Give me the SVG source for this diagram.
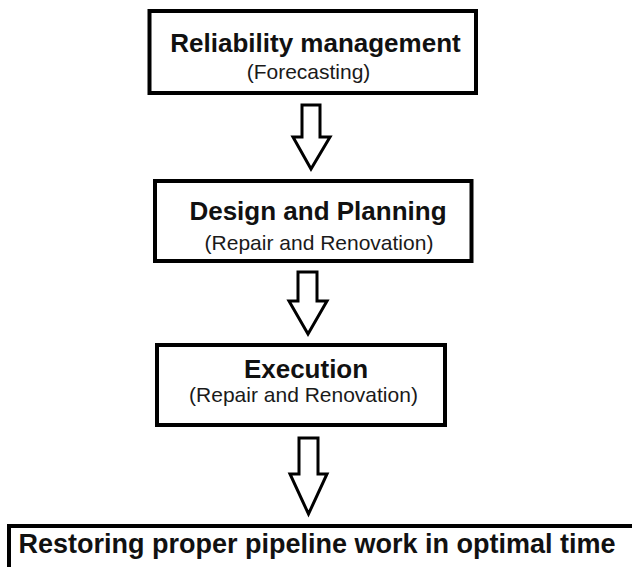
<svg xmlns="http://www.w3.org/2000/svg" width="632" height="567" viewBox="0 0 632 567">
<style>
.box{fill:#fff;stroke:#000;stroke-width:4}
.arrow{fill:#fff;stroke:#000;stroke-width:3;stroke-linejoin:miter}
.t{font-family:"Liberation Sans",Arial,sans-serif;font-weight:bold;font-size:26px;fill:#111;text-anchor:middle}
.s{font-family:"Liberation Sans",Arial,sans-serif;font-size:21px;fill:#1a1a1a;text-anchor:middle}
</style>
<rect width="632" height="567" fill="#fff"/>
<g id="connectors">
<path class="arrow" d="M302,105 H320 V137 H330 L311,169 L293,137 H302 Z"/>
<path class="arrow" d="M298,272 H317 V301 H327 L308,334 L289,301 H298 Z"/>
<path class="arrow" d="M299,438 H318 V474 H327 L308.5,514 L290,474 H299 Z"/>
</g>
<g id="node-reliability">
<rect class="box" x="149.5" y="11" width="326.5" height="82"/>
<text class="t" x="315.5" y="52">Reliability management</text>
<text class="s" x="308.5" y="79">(Forecasting)</text>
</g>
<g id="node-design">
<rect class="box" x="155" y="181" width="316.5" height="80"/>
<text class="t" x="318" y="220">Design and Planning</text>
<text class="s" x="319" y="250">(Repair and Renovation)</text>
</g>
<g id="node-execution">
<rect class="box" x="157" y="345" width="288" height="80"/>
<text class="t" x="306" y="378">Execution</text>
<text class="s" x="303.5" y="402">(Repair and Renovation)</text>
</g>
<g id="node-restoring">
<rect class="box" x="9" y="526" width="640" height="80"/>
<text class="t" x="317" y="553" style="font-size:27px">Restoring proper pipeline work in optimal time</text>
</g>
</svg>
